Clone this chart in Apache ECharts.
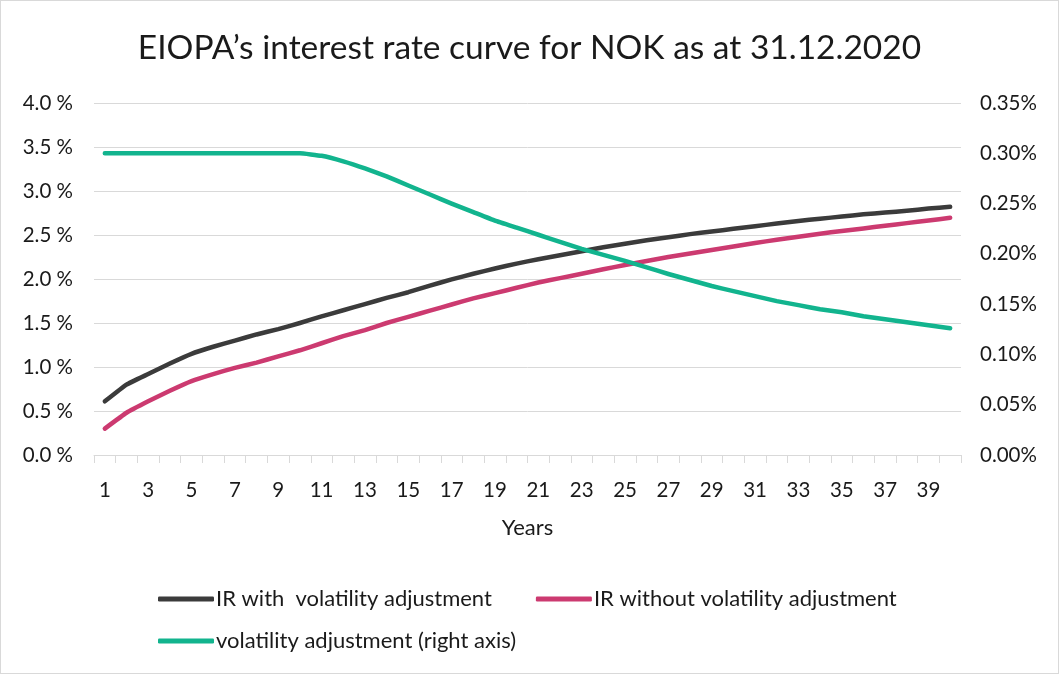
<!DOCTYPE html>
<html>
<head>
<meta charset="utf-8">
<script src="https://cdn.jsdelivr.net/npm/echarts@6/dist/echarts.min.js"></script>
<style>
html,body{margin:0;padding:0;background:#fff;}
#c{width:1059px;height:674px;box-sizing:border-box;border:1px solid #d9d9d9;}
</style>
</head>
<body>
<div id="c"></div>
<script>
const years = [];
for (let i = 1; i <= 40; i++) years.push(String(i));

const irWithVA = [0.61,0.80,0.92,1.04,1.15,1.23,1.30,1.37,1.43,1.50,
  1.575,1.645,1.715,1.785,1.85,1.925,1.995,2.06,2.12,2.175,
  2.225,2.27,2.315,2.36,2.40,2.44,2.475,2.51,2.54,2.57,
  2.60,2.63,2.66,2.685,2.71,2.735,2.755,2.775,2.80,2.82];

const irWithoutVA = [0.30,0.48,0.61,0.73,0.84,0.92,0.99,1.05,1.12,1.19,
  1.27,1.35,1.42,1.50,1.57,1.64,1.71,1.78,1.84,1.90,
  1.96,2.01,2.06,2.11,2.16,2.205,2.25,2.29,2.33,2.37,
  2.41,2.445,2.48,2.515,2.545,2.575,2.605,2.635,2.665,2.695];

const volAdj = [0.300,0.300,0.300,0.300,0.300,0.300,0.300,0.300,0.300,0.300,
  0.2975,0.292,0.285,0.277,0.268,0.259,0.250,0.2415,0.233,0.226,
  0.219,0.212,0.205,0.199,0.193,0.1865,0.180,0.174,0.168,0.163,
  0.158,0.153,0.149,0.145,0.142,0.138,0.135,0.132,0.129,0.126];

const names = ['IR with  volatility adjustment','IR without volatility adjustment','volatility adjustment (right axis)'];
const colors = ['#3b3b3b','#cc3a70','#12b48e'];
const FONT = 'Lato';

const chart = echarts.init(document.getElementById('c'));
const mk = (name, data, color, yAxisIndex) => ({
  name, type:'line', data, yAxisIndex, symbol:'none', smooth:0.1,
  lineStyle:{color, width:4.5, cap:'round', join:'round'},
  itemStyle:{color}
});
chart.setOption({
  animation:false,
  textStyle:{fontFamily:FONT},
  title:{text:'EIOPA’s interest rate curve for NOK as at 31.12.2020', left:'center', top:25,
    textStyle:{fontFamily:FONT, fontSize:33.5, fontWeight:'normal', color:'#1a1a1a'}},
  grid:{left:93, right:97, top:102, bottom:218},
  legend:[
    {data:[names[0],names[1]], left:152, top:582, itemWidth:56, itemHeight:5, icon:'roundRect', itemGap:44,
     textStyle:{fontFamily:FONT, fontSize:22, color:'#1a1a1a', padding:[0,0,0,-3]}},
    {data:[names[2]], left:152, top:624, itemWidth:56, itemHeight:5, icon:'roundRect',
     textStyle:{fontFamily:FONT, fontSize:22, color:'#1a1a1a', padding:[0,0,0,-3]}}
  ],
  xAxis:{type:'category', data:years, boundaryGap:true,
    name:'Years', nameLocation:'middle', nameGap:62,
    nameTextStyle:{fontFamily:FONT, fontSize:22, color:'#1a1a1a'},
    axisLine:{lineStyle:{color:'#d9d9d9', width:1}},
    axisTick:{show:true, interval:0, length:8, lineStyle:{color:'#d9d9d9'}},
    axisLabel:{interval:1, margin:25, fontFamily:FONT, fontSize:20.5, color:'#1a1a1a'}
  },
  yAxis:[
    {type:'value', min:0, max:4, interval:0.5,
     axisLine:{show:false}, axisTick:{show:false},
     splitLine:{lineStyle:{color:'#d9d9d9', width:1}},
     axisLabel:{margin:21, fontFamily:FONT, fontSize:20.5, color:'#1a1a1a',
       formatter:v=>v.toFixed(1)+' %'}},
    {type:'value', min:0, max:0.35, interval:0.05, position:'right',
     axisLine:{show:false}, axisTick:{show:false}, splitLine:{show:false},
     axisLabel:{margin:19, fontFamily:FONT, fontSize:20.5, color:'#1a1a1a',
       formatter:v=>v.toFixed(2)+'%'}}
  ],
  series:[
    mk(names[0], irWithVA, colors[0], 0),
    mk(names[1], irWithoutVA, colors[1], 0),
    mk(names[2], volAdj, colors[2], 1)
  ]
});
</script>
</body>
</html>
